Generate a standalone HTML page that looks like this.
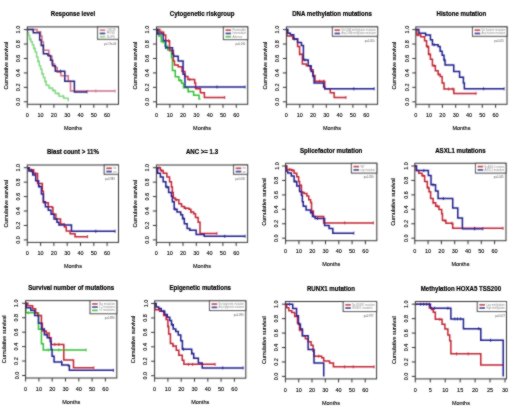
<!DOCTYPE html>
<html><head><meta charset="utf-8"><style>
html,body{margin:0;padding:0;background:#fff;}
svg{display:block;}
text{font-family:"Liberation Sans",sans-serif;}
.ax{font-size:5.5px;fill:#000;stroke:#000;stroke-width:0.12px;}
.ti{font-size:6.9px;font-weight:bold;fill:#000;stroke:#000;stroke-width:0.2px;}
.lg{font-size:2.7px;fill:#888;}
.lgp{font-size:2.7px;fill:#555;}
</style></head><body>
<svg width="520" height="413" viewBox="0 0 520 413">
<defs><filter id="bl" x="0" y="0" width="520" height="413" filterUnits="userSpaceOnUse"><feConvolveMatrix order="3" kernelMatrix="1 1 1 1 10 1 1 1 1" divisor="18" edgeMode="none"/></filter>
<filter id="bt" x="0" y="0" width="520" height="413" filterUnits="userSpaceOnUse"><feConvolveMatrix order="3" kernelMatrix="1 1 1 1 14 1 1 1 1" divisor="22" edgeMode="none"/></filter></defs>
<rect width="520" height="413" fill="#fff"/>
<g filter="url(#bl)"><path d="M27.30,29.60H27.70V32.85H28.63V35.38H29.56V38.99H30.89V41.87H32.35V44.76H33.68V48.37H35.15V51.98H36.61V57.04H37.94V61.37H39.27V65.70H40.60V69.31H41.93V73.64H43.39V77.61H44.86V81.58H46.19V85.19H48.98V88.08H52.57V90.61H55.36V93.50H59.09V96.17H63.74V98.19H68.26V100.72H68.53" fill="none" stroke="#84d884" stroke-width="1.5"/><path d="M29.96,37.49V40.49M33.95,46.87V49.87M37.94,59.87V62.87M41.93,72.14V75.14M45.92,80.08V83.08M49.91,86.58V89.58M53.90,89.11V92.11M57.89,92.00V95.00M63.21,94.67V97.67" stroke="#84d884" stroke-width="0.9"/><path d="M27.30,29.60H37.01V31.77H40.60V36.10H41.93V41.87H43.39V50.18H48.85V56.31H51.91V63.89H54.56V67.50H57.23V72.20H60.95V75.81H68.26V81.58H70.53V90.97H115.08" fill="none" stroke="#cc6e8c" stroke-width="1.5"/><path d="M60.55,70.70V73.70M95.80,89.47V92.47M115.08,89.47V92.47" stroke="#cc6e8c" stroke-width="0.9"/><path d="M27.30,29.60H33.29V32.85H39.67V39.92H41.27V45.48H43.39V53.79H47.92V55.59H50.58V60.21H52.57V65.70H55.36V71.26H64.81V81.22H74.38V91.91H87.02" fill="none" stroke="#1e1e78" stroke-width="1.5"/><path d="M43.26,43.98V46.98M60.55,69.76V72.76M87.02,90.41V93.41" stroke="#1e1e78" stroke-width="0.9"/><rect x="27.3" y="26.9" width="91.2" height="77.4" fill="none" stroke="#333" stroke-width="1"/><path d="M23.80,101.80H27.3M23.80,87.36H27.3M23.80,72.92H27.3M23.80,58.48H27.3M23.80,44.04H27.3M23.80,29.60H27.3M27.30,104.30V107.80M40.60,104.30V107.80M53.90,104.30V107.80M67.20,104.30V107.80M80.50,104.30V107.80M93.80,104.30V107.80M107.10,104.30V107.80" stroke="#333" stroke-width="1"/><rect x="97.6" y="26.9" width="20.90" height="12.40" fill="#fff" stroke="#333" stroke-width="1"/><path d="M99.70,30.20H105.30" stroke="#cc6e8c" stroke-width="1.7"/><path d="M99.70,33.45H105.30" stroke="#1e1e78" stroke-width="1.7"/><path d="M99.70,36.70H105.30" stroke="#84d884" stroke-width="1.7"/><path d="M156.50,29.60H158.63V36.10H161.29V41.87H165.01V46.21H167.81V50.10H171.53V57.76H172.46V70.39H175.25V76.82H178.84V80.50H181.64V83.17H183.50V87.87H188.15V91.48H193.61V95.16H199.06V98.91H200.39" fill="none" stroke="#30c030" stroke-width="1.5"/><path d="M163.15,40.37V43.37M169.80,48.60V51.60M180.44,79.00V82.00M188.42,89.98V92.98" stroke="#30c030" stroke-width="0.9"/><path d="M156.50,29.60H159.82V32.13H163.68V35.01H165.68V40.79H169.53V50.54H173.39V61.01H174.46V64.98H178.18V66.78H182.04V71.48H184.96V76.53H187.89V79.42H194.67V83.03H195.60V88.80H200.39V92.78H204.38V97.47H224.73" fill="none" stroke="#c02430" stroke-width="1.5"/><path d="M161.82,30.63V33.63M168.47,39.29V42.29M189.75,77.92V80.92M224.73,95.97V98.97" stroke="#c02430" stroke-width="0.9"/><path d="M156.50,29.60H157.83V33.93H163.15V40.43H165.68V47.65H172.46V54.15H173.52V56.31H178.18V61.01H183.10V74.36H184.96V87.00H245.08" fill="none" stroke="#1c1c8c" stroke-width="1.5"/><path d="M165.81,46.15V49.15M217.01,85.50V88.50M245.08,85.50V88.50" stroke="#1c1c8c" stroke-width="0.9"/><rect x="156.5" y="26.9" width="91.2" height="77.4" fill="none" stroke="#333" stroke-width="1"/><path d="M153.00,101.80H156.5M153.00,87.36H156.5M153.00,72.92H156.5M153.00,58.48H156.5M153.00,44.04H156.5M153.00,29.60H156.5M156.50,104.30V107.80M169.80,104.30V107.80M183.10,104.30V107.80M196.40,104.30V107.80M209.70,104.30V107.80M223.00,104.30V107.80M236.30,104.30V107.80" stroke="#333" stroke-width="1"/><rect x="223.4" y="26.9" width="24.30" height="12.70" fill="#fff" stroke="#333" stroke-width="1"/><path d="M225.50,30.20H231.10" stroke="#c02430" stroke-width="1.7"/><path d="M225.50,33.45H231.10" stroke="#1c1c8c" stroke-width="1.7"/><path d="M225.50,36.70H231.10" stroke="#30c030" stroke-width="1.7"/><path d="M286.40,29.60H286.93V36.10H292.78V38.99H297.57V46.57H299.57V54.15H302.36V63.89H306.35V65.70H310.21V69.67H313.00V75.45H315.00V81.22H324.70V88.80H330.29V92.78H334.15V97.47H345.98" fill="none" stroke="#c02430" stroke-width="1.5"/><path d="M299.70,52.65V55.65M319.65,79.72V82.72M323.64,79.72V82.72M345.98,95.97V98.97" stroke="#c02430" stroke-width="0.9"/><path d="M286.40,29.60H287.86V33.21H290.39V34.65H293.71V38.99H297.57V42.60H301.43V45.48H303.42V59.92H308.21V65.70H311.14V71.48H313.00V76.53H314.06V83.03H323.64V87.00H324.70V88.80H374.18" fill="none" stroke="#1c1c8c" stroke-width="1.5"/><path d="M294.38,37.49V40.49M305.02,58.42V61.42M353.83,87.30V90.30M374.18,87.30V90.30" stroke="#1c1c8c" stroke-width="0.9"/><rect x="286.4" y="26.9" width="91.2" height="77.4" fill="none" stroke="#333" stroke-width="1"/><path d="M282.90,101.80H286.4M282.90,87.36H286.4M282.90,72.92H286.4M282.90,58.48H286.4M282.90,44.04H286.4M282.90,29.60H286.4M286.40,104.30V107.80M299.70,104.30V107.80M313.00,104.30V107.80M326.30,104.30V107.80M339.60,104.30V107.80M352.90,104.30V107.80M366.20,104.30V107.80" stroke="#333" stroke-width="1"/><rect x="332.4" y="26.9" width="45.20" height="9.40" fill="#fff" stroke="#333" stroke-width="1"/><path d="M334.50,30.20H340.10" stroke="#c02430" stroke-width="1.7"/><path d="M334.50,33.45H340.10" stroke="#1c1c8c" stroke-width="1.7"/><path d="M415.80,29.60H416.86V35.01H420.72V36.82H424.58V40.79H426.57V46.57H428.57V54.15H430.43V59.20H432.43V65.70H435.35V70.75H438.14V74.36H440.14V76.53H442.13V83.03H444.00V89.02H453.84V93.42H476.05" fill="none" stroke="#c02430" stroke-width="1.5"/><path d="M418.06,33.51V36.51M427.37,45.07V48.07M429.10,52.65V55.65M434.15,64.20V67.20M438.41,72.86V75.86M448.65,87.52V90.52M452.77,87.52V90.52M476.05,91.92V94.92" stroke="#c02430" stroke-width="0.9"/><path d="M415.80,29.60H418.86V33.21H425.64V35.01H430.43V39.71H432.43V44.76H438.14V46.57H440.14V51.26H442.13V55.23H444.00V59.92H445.06V64.98H453.71V71.48H459.56V77.25H463.41V83.03H464.35V88.80H504.11" fill="none" stroke="#1c1c8c" stroke-width="1.5"/><path d="M425.64,33.51V36.51M434.15,43.26V46.26M444.40,58.42V61.42M483.63,87.30V90.30M504.11,87.30V90.30" stroke="#1c1c8c" stroke-width="0.9"/><rect x="415.8" y="26.9" width="91.2" height="77.4" fill="none" stroke="#333" stroke-width="1"/><path d="M412.30,101.80H415.8M412.30,87.36H415.8M412.30,72.92H415.8M412.30,58.48H415.8M412.30,44.04H415.8M412.30,29.60H415.8M415.80,104.30V107.80M429.10,104.30V107.80M442.40,104.30V107.80M455.70,104.30V107.80M469.00,104.30V107.80M482.30,104.30V107.80M495.60,104.30V107.80" stroke="#333" stroke-width="1"/><rect x="472.5" y="26.9" width="34.50" height="9.40" fill="#fff" stroke="#333" stroke-width="1"/><path d="M474.60,30.20H480.20" stroke="#c02430" stroke-width="1.7"/><path d="M474.60,33.45H480.20" stroke="#1c1c8c" stroke-width="1.7"/><path d="M27.30,167.70H29.30V169.87H33.68V173.48H37.54V183.58H42.33V191.16H43.39V202.72H48.31V206.69H52.04V207.41H52.97V214.27H55.90V218.96H60.55V224.02H64.41V226.90H66.27V230.88H70.13V233.76H75.05V236.65H87.55" fill="none" stroke="#c02430" stroke-width="1.5"/><path d="M31.29,168.37V171.37M35.28,171.98V174.98M87.55,235.15V238.15" stroke="#c02430" stroke-width="0.9"/><path d="M27.30,167.70H28.90V170.95H32.75V174.92H35.68V180.70H38.61V186.47H41.40V194.05H43.39V201.63H45.39V206.69H48.31V210.30H51.11V214.27H54.03V218.96H56.96V222.21H58.95V225.10H71.46V231.24H115.08" fill="none" stroke="#1c1c8c" stroke-width="1.5"/><path d="M31.29,169.45V172.45M39.27,184.97V187.97M95.80,229.74V232.74M115.08,229.74V232.74" stroke="#1c1c8c" stroke-width="0.9"/><rect x="27.3" y="165.0" width="91.2" height="77.4" fill="none" stroke="#333" stroke-width="1"/><path d="M23.80,239.90H27.3M23.80,225.46H27.3M23.80,211.02H27.3M23.80,196.58H27.3M23.80,182.14H27.3M23.80,167.70H27.3M27.30,242.40V245.90M40.60,242.40V245.90M53.90,242.40V245.90M67.20,242.40V245.90M80.50,242.40V245.90M93.80,242.40V245.90M107.10,242.40V245.90" stroke="#333" stroke-width="1"/><rect x="104.2" y="165.0" width="14.30" height="9.30" fill="#fff" stroke="#333" stroke-width="1"/><path d="M106.30,168.30H111.90" stroke="#c02430" stroke-width="1.7"/><path d="M106.30,171.55H111.90" stroke="#1c1c8c" stroke-width="1.7"/><path d="M156.40,167.70H160.39V170.59H163.18V173.33H166.91V177.01H169.57V181.63H171.43V187.12H172.36V192.61H173.29V198.10H175.15V199.83H178.88V203.73H181.54V206.40H184.33V208.28H188.99V209.21H190.85V212.03H193.64V213.84H195.50V217.52H198.16V222.14H200.02V233.40H216.92" fill="none" stroke="#c02430" stroke-width="1.5"/><path d="M159.06,166.20V169.20M161.72,169.09V172.09M176.35,198.33V201.33M185.66,206.78V209.78M190.98,210.53V213.53M216.92,231.90V234.90" stroke="#c02430" stroke-width="0.9"/><path d="M156.40,167.70H157.60V173.33H160.39V177.01H163.18V181.63H165.84V187.12H168.64V192.61H171.43V196.29H172.36V201.78H174.22V209.21H177.02V212.03H180.74V214.70H182.60V218.38H184.33V223.87H187.12V228.49H189.78V230.37H196.17V234.49H204.28V236.29H245.11" fill="none" stroke="#1c1c8c" stroke-width="1.5"/><path d="M167.04,185.62V188.62M175.02,207.71V210.71M183.00,216.88V219.88M224.76,234.79V237.79M245.11,234.79V237.79" stroke="#1c1c8c" stroke-width="0.9"/><rect x="156.4" y="165.0" width="91.2" height="77.4" fill="none" stroke="#333" stroke-width="1"/><path d="M152.90,239.90H156.4M152.90,225.46H156.4M152.90,211.02H156.4M152.90,196.58H156.4M152.90,182.14H156.4M152.90,167.70H156.4M156.40,242.40V245.90M169.70,242.40V245.90M183.00,242.40V245.90M196.30,242.40V245.90M209.60,242.40V245.90M222.90,242.40V245.90M236.20,242.40V245.90" stroke="#333" stroke-width="1"/><rect x="233.6" y="165.0" width="14.00" height="9.30" fill="#fff" stroke="#333" stroke-width="1"/><path d="M235.70,168.30H241.30" stroke="#c02430" stroke-width="1.7"/><path d="M235.70,171.55H241.30" stroke="#1c1c8c" stroke-width="1.7"/><path d="M285.60,166.00H286.93V169.61H291.32V170.33H294.11V173.22H296.77V176.83H298.63V181.38H299.56V185.13H301.43V192.50H304.09V193.44H306.88V196.11H308.74V199.79H310.60V202.61H311.54V210.91H313.40V216.40H323.64V222.89H373.38" fill="none" stroke="#c02430" stroke-width="1.5"/><path d="M289.59,168.11V171.11M292.25,168.83V171.83M302.89,191.00V194.00M344.79,221.39V224.39M373.38,221.39V224.39" stroke="#c02430" stroke-width="0.9"/><path d="M285.60,166.00H286.00V171.05H287.73V173.08H291.32V175.89H294.11V181.38H296.77V186.00H299.56V191.49H301.43V195.17H302.36V201.74H303.29V206.29H306.08V210.04H310.60V212.71H312.47V216.40H315.13V218.42H324.57V225.56H329.09V228.38H332.82V233.15H353.83" fill="none" stroke="#1c1c8c" stroke-width="1.5"/><path d="M294.91,179.88V182.88M312.20,211.21V214.21M317.52,216.92V219.92M353.83,231.65V234.65" stroke="#1c1c8c" stroke-width="0.9"/><rect x="285.6" y="163.3" width="91.2" height="77.4" fill="none" stroke="#333" stroke-width="1"/><path d="M282.10,238.20H285.6M282.10,223.76H285.6M282.10,209.32H285.6M282.10,194.88H285.6M282.10,180.44H285.6M282.10,166.00H285.6M285.60,240.70V244.20M298.90,240.70V244.20M312.20,240.70V244.20M325.50,240.70V244.20M338.80,240.70V244.20M352.10,240.70V244.20M365.40,240.70V244.20" stroke="#333" stroke-width="1"/><rect x="351.4" y="163.3" width="25.40" height="9.80" fill="#fff" stroke="#333" stroke-width="1"/><path d="M353.50,166.60H359.10" stroke="#c02430" stroke-width="1.7"/><path d="M353.50,169.85H359.10" stroke="#1c1c8c" stroke-width="1.7"/><path d="M414.80,166.00H416.13V170.62H418.79V173.22H421.98V175.67H424.64V181.60H427.30V187.66H429.03V191.78H430.63V198.56H433.15V202.82H435.68V206.22H439.01V209.61H441.67V213.80H442.46V220.58H445.92V223.18H452.71V228.31H503.11" fill="none" stroke="#c02430" stroke-width="1.5"/><path d="M423.05,174.17V177.17M428.10,186.16V189.16M433.15,201.32V204.32M437.41,204.72V207.72M444.99,219.08V222.08M451.77,221.68V224.68M474.65,226.81V229.81M503.11,226.81V229.81" stroke="#c02430" stroke-width="0.9"/><path d="M414.80,166.00H416.53V170.62H428.37V175.39H431.03V184.77H435.55V190.98H438.07V198.56H452.71V207.88H457.76V217.98H462.41V228.81H482.76" fill="none" stroke="#1c1c8c" stroke-width="1.5"/><path d="M423.84,169.12V172.12M433.15,183.27V186.27M443.40,197.06V200.06M474.65,227.31V230.31M482.76,227.31V230.31" stroke="#1c1c8c" stroke-width="0.9"/><rect x="414.8" y="163.3" width="91.2" height="77.4" fill="none" stroke="#333" stroke-width="1"/><path d="M411.30,238.20H414.8M411.30,223.76H414.8M411.30,209.32H414.8M411.30,194.88H414.8M411.30,180.44H414.8M411.30,166.00H414.8M414.80,240.70V244.20M428.10,240.70V244.20M441.40,240.70V244.20M454.70,240.70V244.20M468.00,240.70V244.20M481.30,240.70V244.20M494.60,240.70V244.20" stroke="#333" stroke-width="1"/><rect x="475.5" y="163.3" width="30.50" height="9.80" fill="#fff" stroke="#333" stroke-width="1"/><path d="M477.60,166.60H483.20" stroke="#c02430" stroke-width="1.7"/><path d="M477.60,169.85H483.20" stroke="#1c1c8c" stroke-width="1.7"/><path d="M25.60,303.30H25.87V312.69H38.50V329.29H41.43V343.73H43.29V349.94H86.12" fill="none" stroke="#30c030" stroke-width="1.5"/><path d="M28.26,311.19V314.19M48.21,348.44V351.44M58.85,348.44V351.44M86.12,348.44V351.44" stroke="#30c030" stroke-width="0.9"/><path d="M25.60,303.30H27.86V305.83H32.65V308.72H35.58V312.69H37.57V315.57H41.43V323.23H42.36V330.95H46.22V332.90H49.14V337.74H51.14V344.45H63.77V360.05H73.48V367.77H93.83" fill="none" stroke="#c02430" stroke-width="1.5"/><path d="M54.86,342.95V345.95M58.85,342.95V345.95M93.83,366.27V369.27" stroke="#c02430" stroke-width="0.9"/><path d="M25.60,303.30H26.27V307.63H30.79V310.52H34.64V315.57H38.50V323.23H41.43V329.29H44.35V334.85H47.28V337.74H50.20V341.57H51.14V349.36H52.07V356.15H54.06V361.93H61.78V364.89H68.43V365.83H69.36V370.30H113.38" fill="none" stroke="#1c1c8c" stroke-width="1.5"/><path d="M44.22,327.79V330.79M61.51,360.43V363.43M113.38,368.80V371.80" stroke="#1c1c8c" stroke-width="0.9"/><rect x="25.6" y="300.6" width="91.2" height="77.4" fill="none" stroke="#333" stroke-width="1"/><path d="M22.10,375.50H25.6M22.10,361.06H25.6M22.10,346.62H25.6M22.10,332.18H25.6M22.10,317.74H25.6M22.10,303.30H25.6M25.60,378.00V381.50M38.90,378.00V381.50M52.20,378.00V381.50M65.50,378.00V381.50M78.80,378.00V381.50M92.10,378.00V381.50M105.40,378.00V381.50" stroke="#333" stroke-width="1"/><rect x="90.0" y="300.6" width="26.80" height="13.10" fill="#fff" stroke="#333" stroke-width="1"/><path d="M92.10,303.90H97.70" stroke="#c02430" stroke-width="1.7"/><path d="M92.10,307.15H97.70" stroke="#1c1c8c" stroke-width="1.7"/><path d="M92.10,310.40H97.70" stroke="#30c030" stroke-width="1.7"/><path d="M154.60,303.50H155.00V309.64H159.65V311.23H163.64V315.41H166.17V319.60H167.90V326.39H168.70V333.97H170.43V343.43H172.95V345.88H176.28V350.21H178.81V355.20H182.26V360.32H183.86V364.36H215.12" fill="none" stroke="#c02430" stroke-width="1.5"/><path d="M168.17,324.89V327.89M173.22,344.38V347.38M188.38,362.86V365.86M192.64,362.86V365.86M215.12,362.86V365.86" stroke="#c02430" stroke-width="0.9"/><path d="M154.60,303.50H156.20V306.89H158.72V308.55H161.25V311.23H164.71V314.62H167.23V317.22H169.76V320.47H171.49V324.73H173.22V328.99H175.75V331.51H178.27V334.91H180.80V340.83H182.40V349.27H191.71V353.53H193.70V358.23H198.36V363.06H202.21V367.90H243.18" fill="none" stroke="#1c1c8c" stroke-width="1.5"/><path d="M163.91,309.73V312.73M172.29,323.23V326.23M183.46,347.77V350.77M191.84,352.03V355.03M222.70,366.40V369.40M243.18,366.40V369.40" stroke="#1c1c8c" stroke-width="0.9"/><rect x="154.6" y="300.8" width="91.2" height="77.4" fill="none" stroke="#333" stroke-width="1"/><path d="M151.10,375.70H154.6M151.10,361.26H154.6M151.10,346.82H154.6M151.10,332.38H154.6M151.10,317.94H154.6M151.10,303.50H154.6M154.60,378.20V381.70M167.90,378.20V381.70M181.20,378.20V381.70M194.50,378.20V381.70M207.80,378.20V381.70M221.10,378.20V381.70M234.40,378.20V381.70" stroke="#333" stroke-width="1"/><rect x="209.5" y="300.8" width="36.30" height="9.70" fill="#fff" stroke="#333" stroke-width="1"/><path d="M211.60,304.10H217.20" stroke="#c02430" stroke-width="1.7"/><path d="M211.60,307.35H217.20" stroke="#1c1c8c" stroke-width="1.7"/><path d="M285.40,304.20H286.73V307.81H288.86V310.70H291.78V312.50H294.71V316.47H297.50V323.19H299.50V330.05H302.42V335.82H305.35V338.86H308.14V341.74H311.07V345.35H313.06V351.35H314.00V356.18H321.71V357.63H323.70V361.09H329.56V363.04H333.41V366.87H374.11" fill="none" stroke="#c02430" stroke-width="1.5"/><path d="M300.03,328.55V331.55M318.65,354.68V357.68M344.58,365.37V368.37M353.23,365.37V368.37M374.11,365.37V368.37" stroke="#c02430" stroke-width="0.9"/><path d="M285.40,304.20H292.71V308.53H296.57V315.75H298.43V324.20H300.43V329.04H302.42V335.82H308.14V349.40H314.00V363.04H323.70V376.40H323.70" fill="none" stroke="#1c1c8c" stroke-width="1.5"/><path d="M289.39,302.70V305.70" stroke="#1c1c8c" stroke-width="0.9"/><rect x="285.4" y="301.5" width="91.2" height="77.4" fill="none" stroke="#333" stroke-width="1"/><path d="M281.90,376.40H285.4M281.90,361.96H285.4M281.90,347.52H285.4M281.90,333.08H285.4M281.90,318.64H285.4M281.90,304.20H285.4M285.40,378.90V382.40M298.70,378.90V382.40M312.00,378.90V382.40M325.30,378.90V382.40M338.60,378.90V382.40M351.90,378.90V382.40M365.20,378.90V382.40" stroke="#333" stroke-width="1"/><rect x="343.2" y="301.5" width="33.40" height="10.00" fill="#fff" stroke="#333" stroke-width="1"/><path d="M345.30,304.80H350.90" stroke="#c02430" stroke-width="1.7"/><path d="M345.30,308.05H350.90" stroke="#1c1c8c" stroke-width="1.7"/><path d="M415.30,304.20H429.35V307.67H431.45V309.62H433.24V312.14H435.33V319.36H442.06V324.20H444.90V329.04H447.89V334.88H449.69V340.66H450.88V353.87H480.78V364.92H503.21" fill="none" stroke="#c02430" stroke-width="1.5"/><path d="M439.82,317.86V320.86M456.56,352.37V355.37M468.22,352.37V355.37" stroke="#c02430" stroke-width="0.9"/><path d="M415.30,304.20H430.43V308.24H450.88V318.93H463.44V328.68H480.78V340.30H503.21V376.40H503.21" fill="none" stroke="#1c1c8c" stroke-width="1.5"/><path d="M420.68,302.70V305.70M423.67,302.70V305.70M426.66,302.70V305.70M429.35,302.70V305.70M434.44,306.74V309.74M447.89,306.74V309.74M454.77,317.43V320.43M457.46,317.43V320.43M460.45,317.43V320.43M478.69,327.18V330.18M490.65,338.80V341.80" stroke="#1c1c8c" stroke-width="0.9"/><rect x="415.3" y="301.5" width="91.2" height="77.4" fill="none" stroke="#333" stroke-width="1"/><path d="M411.80,376.40H415.3M411.80,361.96H415.3M411.80,347.52H415.3M411.80,333.08H415.3M411.80,318.64H415.3M411.80,304.20H415.3M415.30,378.90V382.40M430.25,378.90V382.40M445.20,378.90V382.40M460.15,378.90V382.40M475.10,378.90V382.40M490.05,378.90V382.40M505.00,378.90V382.40" stroke="#333" stroke-width="1"/><rect x="477.3" y="301.5" width="29.20" height="10.00" fill="#fff" stroke="#333" stroke-width="1"/><path d="M479.40,304.80H485.00" stroke="#c02430" stroke-width="1.7"/><path d="M479.40,308.05H485.00" stroke="#1c1c8c" stroke-width="1.7"/></g>
<g filter="url(#bt)"><text x="18.20" y="101.80" transform="rotate(-90 18.20 101.80)" text-anchor="middle" dominant-baseline="central" class="ax">0.0</text><text x="18.20" y="87.36" transform="rotate(-90 18.20 87.36)" text-anchor="middle" dominant-baseline="central" class="ax">0.2</text><text x="18.20" y="72.92" transform="rotate(-90 18.20 72.92)" text-anchor="middle" dominant-baseline="central" class="ax">0.4</text><text x="18.20" y="58.48" transform="rotate(-90 18.20 58.48)" text-anchor="middle" dominant-baseline="central" class="ax">0.6</text><text x="18.20" y="44.04" transform="rotate(-90 18.20 44.04)" text-anchor="middle" dominant-baseline="central" class="ax">0.8</text><text x="18.20" y="29.60" transform="rotate(-90 18.20 29.60)" text-anchor="middle" dominant-baseline="central" class="ax">1.0</text><text x="27.30" y="114.50" text-anchor="middle" dominant-baseline="central" class="ax">0</text><text x="40.60" y="114.50" text-anchor="middle" dominant-baseline="central" class="ax">10</text><text x="53.90" y="114.50" text-anchor="middle" dominant-baseline="central" class="ax">20</text><text x="67.20" y="114.50" text-anchor="middle" dominant-baseline="central" class="ax">30</text><text x="80.50" y="114.50" text-anchor="middle" dominant-baseline="central" class="ax">40</text><text x="93.80" y="114.50" text-anchor="middle" dominant-baseline="central" class="ax">50</text><text x="107.10" y="114.50" text-anchor="middle" dominant-baseline="central" class="ax">60</text><text x="72.90" y="127.50" text-anchor="middle" dominant-baseline="central" class="ax">Months</text><text x="5.70" y="65.60" transform="rotate(-90 5.70 65.60)" text-anchor="middle" dominant-baseline="central" class="ax">Cumulative survival</text><text transform="translate(72.90 16.30) scale(0.885 1)" text-anchor="middle" class="ti">Response level</text><text x="106.70" y="30.70" dominant-baseline="central" class="lg">CR/CRi</text><text x="106.70" y="33.95" dominant-baseline="central" class="lg">PR/SD</text><text x="106.70" y="37.20" dominant-baseline="central" class="lg">SD/PD</text><text x="116.30" y="44.30" text-anchor="end" dominant-baseline="central" class="lgp">p=1.9e-06</text><text x="147.40" y="101.80" transform="rotate(-90 147.40 101.80)" text-anchor="middle" dominant-baseline="central" class="ax">0.0</text><text x="147.40" y="87.36" transform="rotate(-90 147.40 87.36)" text-anchor="middle" dominant-baseline="central" class="ax">0.2</text><text x="147.40" y="72.92" transform="rotate(-90 147.40 72.92)" text-anchor="middle" dominant-baseline="central" class="ax">0.4</text><text x="147.40" y="58.48" transform="rotate(-90 147.40 58.48)" text-anchor="middle" dominant-baseline="central" class="ax">0.6</text><text x="147.40" y="44.04" transform="rotate(-90 147.40 44.04)" text-anchor="middle" dominant-baseline="central" class="ax">0.8</text><text x="147.40" y="29.60" transform="rotate(-90 147.40 29.60)" text-anchor="middle" dominant-baseline="central" class="ax">1.0</text><text x="156.50" y="114.50" text-anchor="middle" dominant-baseline="central" class="ax">0</text><text x="169.80" y="114.50" text-anchor="middle" dominant-baseline="central" class="ax">10</text><text x="183.10" y="114.50" text-anchor="middle" dominant-baseline="central" class="ax">20</text><text x="196.40" y="114.50" text-anchor="middle" dominant-baseline="central" class="ax">30</text><text x="209.70" y="114.50" text-anchor="middle" dominant-baseline="central" class="ax">40</text><text x="223.00" y="114.50" text-anchor="middle" dominant-baseline="central" class="ax">50</text><text x="236.30" y="114.50" text-anchor="middle" dominant-baseline="central" class="ax">60</text><text x="202.10" y="127.50" text-anchor="middle" dominant-baseline="central" class="ax">Months</text><text x="134.90" y="65.60" transform="rotate(-90 134.90 65.60)" text-anchor="middle" dominant-baseline="central" class="ax">Cumulative survival</text><text transform="translate(202.10 16.30) scale(0.885 1)" text-anchor="middle" class="ti">Cytogenetic riskgroup</text><text x="232.50" y="30.70" dominant-baseline="central" textLength="13.40" lengthAdjust="spacingAndGlyphs" class="lg">Favorable</text><text x="232.50" y="33.95" dominant-baseline="central" textLength="13.40" lengthAdjust="spacingAndGlyphs" class="lg">Intermediate</text><text x="232.50" y="37.20" dominant-baseline="central" class="lg">Adverse</text><text x="245.20" y="44.60" text-anchor="end" dominant-baseline="central" class="lgp">p=0.030</text><text x="277.30" y="101.80" transform="rotate(-90 277.30 101.80)" text-anchor="middle" dominant-baseline="central" class="ax">0.0</text><text x="277.30" y="87.36" transform="rotate(-90 277.30 87.36)" text-anchor="middle" dominant-baseline="central" class="ax">0.2</text><text x="277.30" y="72.92" transform="rotate(-90 277.30 72.92)" text-anchor="middle" dominant-baseline="central" class="ax">0.4</text><text x="277.30" y="58.48" transform="rotate(-90 277.30 58.48)" text-anchor="middle" dominant-baseline="central" class="ax">0.6</text><text x="277.30" y="44.04" transform="rotate(-90 277.30 44.04)" text-anchor="middle" dominant-baseline="central" class="ax">0.8</text><text x="277.30" y="29.60" transform="rotate(-90 277.30 29.60)" text-anchor="middle" dominant-baseline="central" class="ax">1.0</text><text x="286.40" y="114.50" text-anchor="middle" dominant-baseline="central" class="ax">0</text><text x="299.70" y="114.50" text-anchor="middle" dominant-baseline="central" class="ax">10</text><text x="313.00" y="114.50" text-anchor="middle" dominant-baseline="central" class="ax">20</text><text x="326.30" y="114.50" text-anchor="middle" dominant-baseline="central" class="ax">30</text><text x="339.60" y="114.50" text-anchor="middle" dominant-baseline="central" class="ax">40</text><text x="352.90" y="114.50" text-anchor="middle" dominant-baseline="central" class="ax">50</text><text x="366.20" y="114.50" text-anchor="middle" dominant-baseline="central" class="ax">60</text><text x="332.00" y="127.50" text-anchor="middle" dominant-baseline="central" class="ax">Months</text><text x="264.80" y="65.60" transform="rotate(-90 264.80 65.60)" text-anchor="middle" dominant-baseline="central" class="ax">Cumulative survival</text><text transform="translate(332.00 16.30) scale(0.885 1)" text-anchor="middle" class="ti">DNA methylation mutations</text><text x="341.50" y="30.70" dominant-baseline="central" textLength="34.30" lengthAdjust="spacingAndGlyphs" class="lg">No DNA methylation mutation</text><text x="341.50" y="33.95" dominant-baseline="central" textLength="34.30" lengthAdjust="spacingAndGlyphs" class="lg">Any DNA methylation mutation</text><text x="374.50" y="41.20" text-anchor="end" dominant-baseline="central" class="lgp">p=0.450</text><text x="406.70" y="101.80" transform="rotate(-90 406.70 101.80)" text-anchor="middle" dominant-baseline="central" class="ax">0.0</text><text x="406.70" y="87.36" transform="rotate(-90 406.70 87.36)" text-anchor="middle" dominant-baseline="central" class="ax">0.2</text><text x="406.70" y="72.92" transform="rotate(-90 406.70 72.92)" text-anchor="middle" dominant-baseline="central" class="ax">0.4</text><text x="406.70" y="58.48" transform="rotate(-90 406.70 58.48)" text-anchor="middle" dominant-baseline="central" class="ax">0.6</text><text x="406.70" y="44.04" transform="rotate(-90 406.70 44.04)" text-anchor="middle" dominant-baseline="central" class="ax">0.8</text><text x="406.70" y="29.60" transform="rotate(-90 406.70 29.60)" text-anchor="middle" dominant-baseline="central" class="ax">1.0</text><text x="415.80" y="114.50" text-anchor="middle" dominant-baseline="central" class="ax">0</text><text x="429.10" y="114.50" text-anchor="middle" dominant-baseline="central" class="ax">10</text><text x="442.40" y="114.50" text-anchor="middle" dominant-baseline="central" class="ax">20</text><text x="455.70" y="114.50" text-anchor="middle" dominant-baseline="central" class="ax">30</text><text x="469.00" y="114.50" text-anchor="middle" dominant-baseline="central" class="ax">40</text><text x="482.30" y="114.50" text-anchor="middle" dominant-baseline="central" class="ax">50</text><text x="495.60" y="114.50" text-anchor="middle" dominant-baseline="central" class="ax">60</text><text x="461.40" y="127.50" text-anchor="middle" dominant-baseline="central" class="ax">Months</text><text x="394.20" y="65.60" transform="rotate(-90 394.20 65.60)" text-anchor="middle" dominant-baseline="central" class="ax">Cumulative survival</text><text transform="translate(461.40 16.30) scale(0.885 1)" text-anchor="middle" class="ti">Histone mutation</text><text x="481.60" y="30.70" dominant-baseline="central" textLength="23.60" lengthAdjust="spacingAndGlyphs" class="lg">No histone mutation</text><text x="481.60" y="33.95" dominant-baseline="central" textLength="23.60" lengthAdjust="spacingAndGlyphs" class="lg">Any histone mutation</text><text x="504.00" y="41.20" text-anchor="end" dominant-baseline="central" class="lgp">p=0.015</text><text x="18.20" y="239.90" transform="rotate(-90 18.20 239.90)" text-anchor="middle" dominant-baseline="central" class="ax">0.0</text><text x="18.20" y="225.46" transform="rotate(-90 18.20 225.46)" text-anchor="middle" dominant-baseline="central" class="ax">0.2</text><text x="18.20" y="211.02" transform="rotate(-90 18.20 211.02)" text-anchor="middle" dominant-baseline="central" class="ax">0.4</text><text x="18.20" y="196.58" transform="rotate(-90 18.20 196.58)" text-anchor="middle" dominant-baseline="central" class="ax">0.6</text><text x="18.20" y="182.14" transform="rotate(-90 18.20 182.14)" text-anchor="middle" dominant-baseline="central" class="ax">0.8</text><text x="18.20" y="167.70" transform="rotate(-90 18.20 167.70)" text-anchor="middle" dominant-baseline="central" class="ax">1.0</text><text x="27.30" y="252.60" text-anchor="middle" dominant-baseline="central" class="ax">0</text><text x="40.60" y="252.60" text-anchor="middle" dominant-baseline="central" class="ax">10</text><text x="53.90" y="252.60" text-anchor="middle" dominant-baseline="central" class="ax">20</text><text x="67.20" y="252.60" text-anchor="middle" dominant-baseline="central" class="ax">30</text><text x="80.50" y="252.60" text-anchor="middle" dominant-baseline="central" class="ax">40</text><text x="93.80" y="252.60" text-anchor="middle" dominant-baseline="central" class="ax">50</text><text x="107.10" y="252.60" text-anchor="middle" dominant-baseline="central" class="ax">60</text><text x="72.90" y="265.60" text-anchor="middle" dominant-baseline="central" class="ax">Months</text><text x="5.70" y="203.70" transform="rotate(-90 5.70 203.70)" text-anchor="middle" dominant-baseline="central" class="ax">Cumulative survival</text><text transform="translate(72.90 154.40) scale(0.885 1)" text-anchor="middle" class="ti">Blast count > 11%</text><text x="113.30" y="168.80" dominant-baseline="central" class="lg">no</text><text x="113.30" y="172.05" dominant-baseline="central" textLength="3.40" lengthAdjust="spacingAndGlyphs" class="lg">yes</text><text x="114.80" y="179.20" text-anchor="end" dominant-baseline="central" class="lgp">p=0.983</text><text x="147.30" y="239.90" transform="rotate(-90 147.30 239.90)" text-anchor="middle" dominant-baseline="central" class="ax">0.0</text><text x="147.30" y="225.46" transform="rotate(-90 147.30 225.46)" text-anchor="middle" dominant-baseline="central" class="ax">0.2</text><text x="147.30" y="211.02" transform="rotate(-90 147.30 211.02)" text-anchor="middle" dominant-baseline="central" class="ax">0.4</text><text x="147.30" y="196.58" transform="rotate(-90 147.30 196.58)" text-anchor="middle" dominant-baseline="central" class="ax">0.6</text><text x="147.30" y="182.14" transform="rotate(-90 147.30 182.14)" text-anchor="middle" dominant-baseline="central" class="ax">0.8</text><text x="147.30" y="167.70" transform="rotate(-90 147.30 167.70)" text-anchor="middle" dominant-baseline="central" class="ax">1.0</text><text x="156.40" y="252.60" text-anchor="middle" dominant-baseline="central" class="ax">0</text><text x="169.70" y="252.60" text-anchor="middle" dominant-baseline="central" class="ax">10</text><text x="183.00" y="252.60" text-anchor="middle" dominant-baseline="central" class="ax">20</text><text x="196.30" y="252.60" text-anchor="middle" dominant-baseline="central" class="ax">30</text><text x="209.60" y="252.60" text-anchor="middle" dominant-baseline="central" class="ax">40</text><text x="222.90" y="252.60" text-anchor="middle" dominant-baseline="central" class="ax">50</text><text x="236.20" y="252.60" text-anchor="middle" dominant-baseline="central" class="ax">60</text><text x="202.00" y="265.60" text-anchor="middle" dominant-baseline="central" class="ax">Months</text><text x="134.80" y="203.70" transform="rotate(-90 134.80 203.70)" text-anchor="middle" dominant-baseline="central" class="ax">Cumulative survival</text><text transform="translate(202.00 154.40) scale(0.885 1)" text-anchor="middle" class="ti">ANC >= 1.3</text><text x="242.70" y="168.80" dominant-baseline="central" class="lg">no</text><text x="242.70" y="172.05" dominant-baseline="central" textLength="3.10" lengthAdjust="spacingAndGlyphs" class="lg">yes</text><text x="245.00" y="179.00" text-anchor="end" dominant-baseline="central" class="lgp">p=0.030</text><text x="276.50" y="238.20" transform="rotate(-90 276.50 238.20)" text-anchor="middle" dominant-baseline="central" class="ax">0.0</text><text x="276.50" y="223.76" transform="rotate(-90 276.50 223.76)" text-anchor="middle" dominant-baseline="central" class="ax">0.2</text><text x="276.50" y="209.32" transform="rotate(-90 276.50 209.32)" text-anchor="middle" dominant-baseline="central" class="ax">0.4</text><text x="276.50" y="194.88" transform="rotate(-90 276.50 194.88)" text-anchor="middle" dominant-baseline="central" class="ax">0.6</text><text x="276.50" y="180.44" transform="rotate(-90 276.50 180.44)" text-anchor="middle" dominant-baseline="central" class="ax">0.8</text><text x="276.50" y="166.00" transform="rotate(-90 276.50 166.00)" text-anchor="middle" dominant-baseline="central" class="ax">1.0</text><text x="285.60" y="250.90" text-anchor="middle" dominant-baseline="central" class="ax">0</text><text x="298.90" y="250.90" text-anchor="middle" dominant-baseline="central" class="ax">10</text><text x="312.20" y="250.90" text-anchor="middle" dominant-baseline="central" class="ax">20</text><text x="325.50" y="250.90" text-anchor="middle" dominant-baseline="central" class="ax">30</text><text x="338.80" y="250.90" text-anchor="middle" dominant-baseline="central" class="ax">40</text><text x="352.10" y="250.90" text-anchor="middle" dominant-baseline="central" class="ax">50</text><text x="365.40" y="250.90" text-anchor="middle" dominant-baseline="central" class="ax">60</text><text x="331.20" y="263.90" text-anchor="middle" dominant-baseline="central" class="ax">Months</text><text x="264.00" y="202.00" transform="rotate(-90 264.00 202.00)" text-anchor="middle" dominant-baseline="central" class="ax">Cumulative survival</text><text transform="translate(331.20 152.70) scale(0.885 1)" text-anchor="middle" class="ti">Splicefactor mutation</text><text x="360.50" y="167.10" dominant-baseline="central" class="lg">WT</text><text x="360.50" y="170.35" dominant-baseline="central" textLength="14.50" lengthAdjust="spacingAndGlyphs" class="lg">any mutation</text><text x="373.50" y="177.40" text-anchor="end" dominant-baseline="central" class="lgp">p=0.280</text><text x="405.70" y="238.20" transform="rotate(-90 405.70 238.20)" text-anchor="middle" dominant-baseline="central" class="ax">0.0</text><text x="405.70" y="223.76" transform="rotate(-90 405.70 223.76)" text-anchor="middle" dominant-baseline="central" class="ax">0.2</text><text x="405.70" y="209.32" transform="rotate(-90 405.70 209.32)" text-anchor="middle" dominant-baseline="central" class="ax">0.4</text><text x="405.70" y="194.88" transform="rotate(-90 405.70 194.88)" text-anchor="middle" dominant-baseline="central" class="ax">0.6</text><text x="405.70" y="180.44" transform="rotate(-90 405.70 180.44)" text-anchor="middle" dominant-baseline="central" class="ax">0.8</text><text x="405.70" y="166.00" transform="rotate(-90 405.70 166.00)" text-anchor="middle" dominant-baseline="central" class="ax">1.0</text><text x="414.80" y="250.90" text-anchor="middle" dominant-baseline="central" class="ax">0</text><text x="428.10" y="250.90" text-anchor="middle" dominant-baseline="central" class="ax">10</text><text x="441.40" y="250.90" text-anchor="middle" dominant-baseline="central" class="ax">20</text><text x="454.70" y="250.90" text-anchor="middle" dominant-baseline="central" class="ax">30</text><text x="468.00" y="250.90" text-anchor="middle" dominant-baseline="central" class="ax">40</text><text x="481.30" y="250.90" text-anchor="middle" dominant-baseline="central" class="ax">50</text><text x="494.60" y="250.90" text-anchor="middle" dominant-baseline="central" class="ax">60</text><text x="460.40" y="263.90" text-anchor="middle" dominant-baseline="central" class="ax">Months</text><text x="393.20" y="202.00" transform="rotate(-90 393.20 202.00)" text-anchor="middle" dominant-baseline="central" class="ax">Cumulative survival</text><text transform="translate(460.40 152.70) scale(0.885 1)" text-anchor="middle" class="ti">ASXL1 mutations</text><text x="484.60" y="167.10" dominant-baseline="central" textLength="19.60" lengthAdjust="spacingAndGlyphs" class="lg">No ASXL1 mutation</text><text x="484.60" y="170.35" dominant-baseline="central" textLength="19.60" lengthAdjust="spacingAndGlyphs" class="lg">ASXL1 mutation</text><text x="503.50" y="177.40" text-anchor="end" dominant-baseline="central" class="lgp">p=0.045</text><text x="16.50" y="375.50" transform="rotate(-90 16.50 375.50)" text-anchor="middle" dominant-baseline="central" class="ax">0.0</text><text x="16.50" y="361.06" transform="rotate(-90 16.50 361.06)" text-anchor="middle" dominant-baseline="central" class="ax">0.2</text><text x="16.50" y="346.62" transform="rotate(-90 16.50 346.62)" text-anchor="middle" dominant-baseline="central" class="ax">0.4</text><text x="16.50" y="332.18" transform="rotate(-90 16.50 332.18)" text-anchor="middle" dominant-baseline="central" class="ax">0.6</text><text x="16.50" y="317.74" transform="rotate(-90 16.50 317.74)" text-anchor="middle" dominant-baseline="central" class="ax">0.8</text><text x="16.50" y="303.30" transform="rotate(-90 16.50 303.30)" text-anchor="middle" dominant-baseline="central" class="ax">1.0</text><text x="25.60" y="388.60" text-anchor="middle" dominant-baseline="central" class="ax">0</text><text x="38.90" y="388.60" text-anchor="middle" dominant-baseline="central" class="ax">10</text><text x="52.20" y="388.60" text-anchor="middle" dominant-baseline="central" class="ax">20</text><text x="65.50" y="388.60" text-anchor="middle" dominant-baseline="central" class="ax">30</text><text x="78.80" y="388.60" text-anchor="middle" dominant-baseline="central" class="ax">40</text><text x="92.10" y="388.60" text-anchor="middle" dominant-baseline="central" class="ax">50</text><text x="105.40" y="388.60" text-anchor="middle" dominant-baseline="central" class="ax">60</text><text x="71.20" y="401.60" text-anchor="middle" dominant-baseline="central" class="ax">Months</text><text x="4.00" y="339.30" transform="rotate(-90 4.00 339.30)" text-anchor="middle" dominant-baseline="central" class="ax">Cumulative survival</text><text transform="translate(71.20 290.00) scale(0.885 1)" text-anchor="middle" class="ti">Survival number of mutations</text><text x="99.10" y="304.40" dominant-baseline="central" textLength="15.90" lengthAdjust="spacingAndGlyphs" class="lg">No mutation</text><text x="99.10" y="307.65" dominant-baseline="central" textLength="15.90" lengthAdjust="spacingAndGlyphs" class="lg">1-2 mutations</text><text x="99.10" y="310.90" dominant-baseline="central" textLength="15.90" lengthAdjust="spacingAndGlyphs" class="lg">>2 mutations</text><text x="114.50" y="318.00" text-anchor="end" dominant-baseline="central" class="lgp">p=0.890</text><text x="145.50" y="375.70" transform="rotate(-90 145.50 375.70)" text-anchor="middle" dominant-baseline="central" class="ax">0.0</text><text x="145.50" y="361.26" transform="rotate(-90 145.50 361.26)" text-anchor="middle" dominant-baseline="central" class="ax">0.2</text><text x="145.50" y="346.82" transform="rotate(-90 145.50 346.82)" text-anchor="middle" dominant-baseline="central" class="ax">0.4</text><text x="145.50" y="332.38" transform="rotate(-90 145.50 332.38)" text-anchor="middle" dominant-baseline="central" class="ax">0.6</text><text x="145.50" y="317.94" transform="rotate(-90 145.50 317.94)" text-anchor="middle" dominant-baseline="central" class="ax">0.8</text><text x="145.50" y="303.50" transform="rotate(-90 145.50 303.50)" text-anchor="middle" dominant-baseline="central" class="ax">1.0</text><text x="154.60" y="388.80" text-anchor="middle" dominant-baseline="central" class="ax">0</text><text x="167.90" y="388.80" text-anchor="middle" dominant-baseline="central" class="ax">10</text><text x="181.20" y="388.80" text-anchor="middle" dominant-baseline="central" class="ax">20</text><text x="194.50" y="388.80" text-anchor="middle" dominant-baseline="central" class="ax">30</text><text x="207.80" y="388.80" text-anchor="middle" dominant-baseline="central" class="ax">40</text><text x="221.10" y="388.80" text-anchor="middle" dominant-baseline="central" class="ax">50</text><text x="234.40" y="388.80" text-anchor="middle" dominant-baseline="central" class="ax">60</text><text x="200.20" y="401.80" text-anchor="middle" dominant-baseline="central" class="ax">Months</text><text x="133.00" y="339.50" transform="rotate(-90 133.00 339.50)" text-anchor="middle" dominant-baseline="central" class="ax">Cumulative survival</text><text transform="translate(200.20 290.20) scale(0.885 1)" text-anchor="middle" class="ti">Epigenetic mutations</text><text x="218.60" y="304.60" dominant-baseline="central" textLength="25.40" lengthAdjust="spacingAndGlyphs" class="lg">No epigenetic mutation</text><text x="218.60" y="307.85" dominant-baseline="central" textLength="25.40" lengthAdjust="spacingAndGlyphs" class="lg">Any epigenetic mutation</text><text x="243.50" y="315.70" text-anchor="end" dominant-baseline="central" class="lgp">p=0.090</text><text x="276.30" y="376.40" transform="rotate(-90 276.30 376.40)" text-anchor="middle" dominant-baseline="central" class="ax">0.0</text><text x="276.30" y="361.96" transform="rotate(-90 276.30 361.96)" text-anchor="middle" dominant-baseline="central" class="ax">0.2</text><text x="276.30" y="347.52" transform="rotate(-90 276.30 347.52)" text-anchor="middle" dominant-baseline="central" class="ax">0.4</text><text x="276.30" y="333.08" transform="rotate(-90 276.30 333.08)" text-anchor="middle" dominant-baseline="central" class="ax">0.6</text><text x="276.30" y="318.64" transform="rotate(-90 276.30 318.64)" text-anchor="middle" dominant-baseline="central" class="ax">0.8</text><text x="276.30" y="304.20" transform="rotate(-90 276.30 304.20)" text-anchor="middle" dominant-baseline="central" class="ax">1.0</text><text x="285.40" y="389.50" text-anchor="middle" dominant-baseline="central" class="ax">0</text><text x="298.70" y="389.50" text-anchor="middle" dominant-baseline="central" class="ax">10</text><text x="312.00" y="389.50" text-anchor="middle" dominant-baseline="central" class="ax">20</text><text x="325.30" y="389.50" text-anchor="middle" dominant-baseline="central" class="ax">30</text><text x="338.60" y="389.50" text-anchor="middle" dominant-baseline="central" class="ax">40</text><text x="351.90" y="389.50" text-anchor="middle" dominant-baseline="central" class="ax">50</text><text x="365.20" y="389.50" text-anchor="middle" dominant-baseline="central" class="ax">60</text><text x="331.00" y="402.50" text-anchor="middle" dominant-baseline="central" class="ax">Months</text><text x="263.80" y="340.20" transform="rotate(-90 263.80 340.20)" text-anchor="middle" dominant-baseline="central" class="ax">Cumulative survival</text><text transform="translate(331.00 290.90) scale(0.885 1)" text-anchor="middle" class="ti">RUNX1 mutation</text><text x="352.30" y="305.30" dominant-baseline="central" textLength="22.50" lengthAdjust="spacingAndGlyphs" class="lg">No RUNX1 mutation</text><text x="352.30" y="308.55" dominant-baseline="central" class="lg">RUNX1 mutation</text><text x="373.50" y="316.20" text-anchor="end" dominant-baseline="central" class="lgp">p=0.977</text><text x="406.20" y="376.40" transform="rotate(-90 406.20 376.40)" text-anchor="middle" dominant-baseline="central" class="ax">0.0</text><text x="406.20" y="361.96" transform="rotate(-90 406.20 361.96)" text-anchor="middle" dominant-baseline="central" class="ax">0.2</text><text x="406.20" y="347.52" transform="rotate(-90 406.20 347.52)" text-anchor="middle" dominant-baseline="central" class="ax">0.4</text><text x="406.20" y="333.08" transform="rotate(-90 406.20 333.08)" text-anchor="middle" dominant-baseline="central" class="ax">0.6</text><text x="406.20" y="318.64" transform="rotate(-90 406.20 318.64)" text-anchor="middle" dominant-baseline="central" class="ax">0.8</text><text x="406.20" y="304.20" transform="rotate(-90 406.20 304.20)" text-anchor="middle" dominant-baseline="central" class="ax">1.0</text><text x="415.30" y="389.50" text-anchor="middle" dominant-baseline="central" class="ax">0</text><text x="430.25" y="389.50" text-anchor="middle" dominant-baseline="central" class="ax">5</text><text x="445.20" y="389.50" text-anchor="middle" dominant-baseline="central" class="ax">10</text><text x="460.15" y="389.50" text-anchor="middle" dominant-baseline="central" class="ax">15</text><text x="475.10" y="389.50" text-anchor="middle" dominant-baseline="central" class="ax">20</text><text x="490.05" y="389.50" text-anchor="middle" dominant-baseline="central" class="ax">25</text><text x="505.00" y="389.50" text-anchor="middle" dominant-baseline="central" class="ax">30</text><text x="460.90" y="402.50" text-anchor="middle" dominant-baseline="central" class="ax">Months</text><text x="393.70" y="340.20" transform="rotate(-90 393.70 340.20)" text-anchor="middle" dominant-baseline="central" class="ax">Cumulative survival</text><text transform="translate(460.90 290.90) scale(0.885 1)" text-anchor="middle" class="ti">Methylation HOXA5 TSS200</text><text x="486.40" y="305.30" dominant-baseline="central" textLength="18.30" lengthAdjust="spacingAndGlyphs" class="lg">Low methylation</text><text x="486.40" y="308.55" dominant-baseline="central" textLength="18.30" lengthAdjust="spacingAndGlyphs" class="lg">High methylation</text><text x="505.00" y="316.20" text-anchor="end" dominant-baseline="central" class="lgp">p=0.027</text></g>
</svg></body></html>
